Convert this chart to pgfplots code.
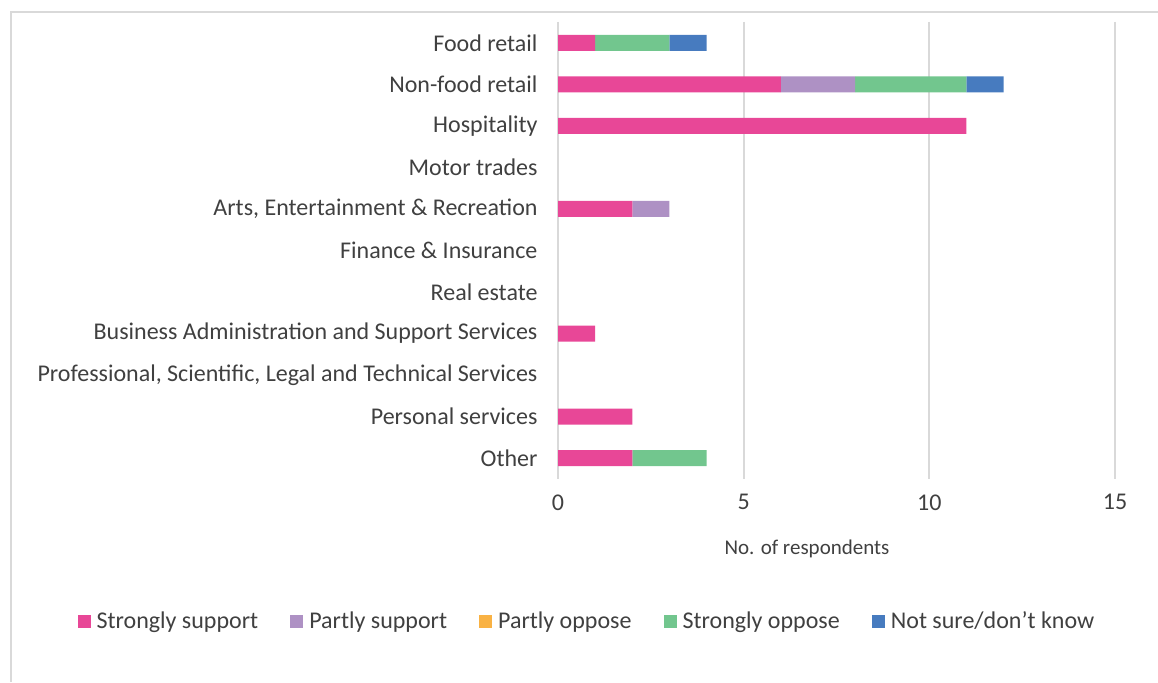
\documentclass[border=0pt]{standalone}
\usepackage{fontspec}
\setmainfont{Carlito}
\usepackage{pgfplots}
\pgfplotsset{compat=1.18}

\definecolor{cSS}{HTML}{E84797}
\definecolor{cPS}{HTML}{AE91C4}
\definecolor{cPO}{HTML}{F9B244}
\definecolor{cSO}{HTML}{72C68E}
\definecolor{cNS}{HTML}{477BBF}
\definecolor{gridc}{HTML}{D9D9D9}
\definecolor{txt}{HTML}{404040}

\begin{document}
\begin{tikzpicture}
\path[use as bounding box] (0pt,0pt) rectangle (1158pt,682pt);
\draw[gridc, line width=1.5pt] (11pt,0pt) -- (11pt,670pt) -- (1158pt,670pt);
\begin{axis}[
    at={(558pt,203pt)}, anchor=south west,
    scale only axis, width=557pt, height=457pt,
    xbar stacked, bar width=16pt,
    /pgfplots/legend image code/.code={\fill[#1] (0pt,-6.5pt) rectangle (13pt,6.5pt);},
    xmin=0, xmax=15, xtick={0,5,10,15},
    ymin=-0.5, ymax=10.5, y dir=reverse,
    ytick={0,...,10},
    yticklabels={Food retail, Non-food retail, Hospitality, Motor trades,
      {Arts, Entertainment \& Recreation}, Finance \& Insurance, Real estate\ ,
      Business Administration and Support Services,
      {Professional, Scientific, Legal and Technical Services},
      Personal services, Other\ },
    axis line style={draw=none},
    major tick length=0pt,
    xmajorgrids, grid style={gridc, line width=1.8pt},
    /pgf/number format/assume math mode=true,
    ticklabel style={font=\fontsize{24}{28}\selectfont, text=txt},
    xticklabel style={yshift=-12pt},
    yticklabel style={xshift=-17pt},
    xlabel={No. of respondents},
    xlabel style={font=\fontsize{21}{25}\selectfont, text=txt,
      at={(axis description cs:0.447,-0.153)}, anchor=center},
    legend style={draw=none, legend columns=5, font=\fontsize{24}{28}\selectfont,
      text=txt, at={(axis description cs:0.052,-0.311)}, anchor=center,
      /tikz/every odd column/.append style={column sep=4pt},
      /tikz/every even column/.append style={column sep=30pt}},
  ]
  \addplot[fill=cSS, draw=none] coordinates {(1,0) (6,1) (11,2) (0,3) (2,4) (0,5) (0,6) (1,7) (0,8) (2,9) (2,10)};
  \addplot[fill=cPS, draw=none] coordinates {(0,0) (2,1) (0,2) (0,3) (1,4) (0,5) (0,6) (0,7) (0,8) (0,9) (0,10)};
  \addplot[fill=cPO, draw=none] coordinates {(0,0) (0,1) (0,2) (0,3) (0,4) (0,5) (0,6) (0,7) (0,8) (0,9) (0,10)};
  \addplot[fill=cSO, draw=none] coordinates {(2,0) (3,1) (0,2) (0,3) (0,4) (0,5) (0,6) (0,7) (0,8) (0,9) (2,10)};
  \addplot[fill=cNS, draw=none] coordinates {(1,0) (1,1) (0,2) (0,3) (0,4) (0,5) (0,6) (0,7) (0,8) (0,9) (0,10)};
  \legend{Strongly support, Partly support, Partly oppose, Strongly oppose, Not sure/don’t know}
\end{axis}
\end{tikzpicture}
\end{document}
